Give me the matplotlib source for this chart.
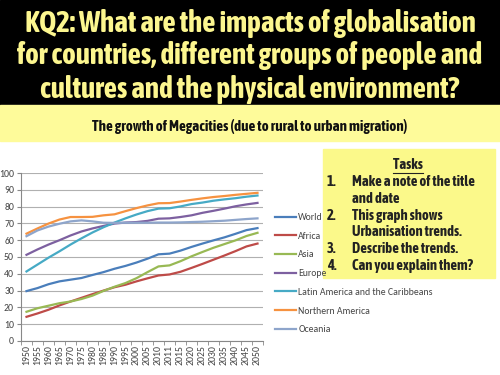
import matplotlib.pyplot as plt
from matplotlib.patches import Rectangle

years = ["1950", "1955", "1960", "1965", "1970", "1975", "1980", "1985", "1990", "1995",
	"2000", "2005", "2010", "2011", "2015", "2020", "2025", "2030", "2035", "2040", "2045", "2050"]

world = [29.7, 31.5, 33.8, 35.5, 36.5, 37.5, 39.3, 41.0, 43.0, 44.7, 46.7, 49.0, 51.6, 52.0,
	53.8, 56.0, 58.0, 59.9, 61.7, 63.8, 66.0, 67.2]
africa = [14.4, 16.4, 18.6, 21.2, 23.5, 25.7, 27.9, 30.0, 32.0, 33.5, 35.5, 37.3, 39.0, 39.6,
	41.2, 43.5, 45.9, 48.4, 50.9, 53.5, 56.3, 58.0]
asia = [17.4, 19.5, 21.0, 22.5, 23.5, 25.0, 27.0, 29.8, 32.3, 34.5, 37.4, 41.0, 44.4, 45.0,
	47.5, 50.4, 53.0, 55.5, 57.7, 59.9, 62.5, 64.4]
europe = [51.3, 54.5, 57.4, 60.0, 62.8, 65.2, 67.0, 68.5, 69.9, 70.5, 70.8, 71.5, 72.8, 73.0,
	73.8, 74.8, 76.3, 77.5, 78.8, 80.2, 81.3, 82.2]
latin = [41.4, 45.5, 49.6, 53.4, 57.4, 61.1, 64.6, 67.7, 70.5, 73.0, 75.3, 77.3, 78.8, 79.0,
	80.1, 81.5, 82.4, 83.5, 84.3, 85.0, 85.9, 86.6]
north = [63.9, 67.0, 69.9, 72.3, 73.8, 73.8, 73.9, 74.8, 75.4, 77.3, 79.1, 80.7, 82.0, 82.1,
	83.0, 84.0, 84.9, 85.7, 86.3, 87.0, 87.6, 88.2]
oceania = [62.4, 65.8, 68.1, 69.8, 71.2, 71.8, 71.2, 70.4, 70.3, 70.4, 70.4, 70.4, 70.5, 70.5,
	70.6, 70.8, 71.0, 71.3, 71.6, 72.1, 72.6, 73.0]

series = [
	("World", world, "#4a7ebb"),
	("Africa", africa, "#be4b48"),
	("Asia", asia, "#98b954"),
	("Europe", europe, "#7d60a0"),
	("Latin America and the Caribbeans", latin, "#46aac5"),
	("Northern America", north, "#f69240"),
	("Oceania", oceania, "#8ea5cb"),
]

title_lines = [
	"KQ2: What are the impacts of globalisation",
	"for countries, different groups of people and",
	"cultures and the physical environment?",
]
subtitle = "The growth of Megacities (due to rural to urban migration)"
tasks = [
	("1.", "Make a note of the title"),
	("", "and date"),
	("2.", "This graph shows"),
	("", "Urbanisation trends."),
	("3.", "Describe the trends."),
	("4.", "Can you explain them?"),
]

narrow = ["Asap Condensed", "DejaVu Sans"]
small = ["Carlito", "DejaVu Sans"]
W, H = 500, 375

fig = plt.figure(figsize=(5, 3.75), dpi=100)
bg = fig.add_axes([0, 0, 1, 1])
bg.set_xlim(0, W)
bg.set_ylim(H, 0)
bg.axis("off")

# header bands
bg.add_patch(Rectangle((0, 0), W, 105, color="black"))
bg.add_patch(Rectangle((0, 105), W, 36, color="#fefb9a"))
for i, line in enumerate(title_lines):
	bg.text(250, 23 + i * 33, line, ha="center", va="center", fontsize=21,
		fontweight="bold", color="#fcf68f", family=narrow)
bg.text(250, 126, subtitle, ha="center", va="center", fontsize=10.8,
	fontweight="bold", color="#111111", family=narrow)

# tasks box
bg.add_patch(Rectangle((323, 149), 172, 129, color="#fbf98a"))
bg.text(408, 165, "Tasks", ha="center", va="center", fontsize=10.5,
	fontweight="bold", color="#222222", family=narrow)
bg.plot([393, 423], [173, 173], color="#222222", lw=0.8)
for i, (num, txt) in enumerate(tasks):
	y = 182 + i * 16.8
	if num:
		bg.text(327, y, num, ha="left", va="center", fontsize=10.5,
			fontweight="bold", color="#222222", family=narrow)
	bg.text(352, y, txt, ha="left", va="center", fontsize=10.5,
		fontweight="bold", color="#222222", family=narrow)

# chart
ax = fig.add_axes([21 / W, 1 - 341 / H, 242 / W, 168 / H])
x = list(range(len(years)))
for name, vals, col in series:
	ax.plot(x, vals, color=col, lw=1.6, label=name)
ax.set_ylim(0, 100)
ax.set_xlim(-0.5, len(years) - 0.5)
ax.set_yticks(range(0, 101, 10))
ax.set_xticks(x)
ax.set_xticklabels(years, rotation=90, family=small)
for lab in ax.get_yticklabels():
	lab.set_family(small)
ax.set_xticks([i - 0.5 for i in range(len(years) + 1)], minor=True)
ax.tick_params(axis="x", which="major", length=0, labelsize=7, labelcolor="#444444", pad=3)
ax.tick_params(axis="x", which="minor", length=3, color="#888888")
ax.tick_params(axis="y", length=3, color="#888888", labelsize=7, labelcolor="#444444", pad=2)
ax.grid(axis="y", color="#b0b0b0", lw=0.8)
ax.set_axisbelow(True)
for s in ["top", "right"]:
	ax.spines[s].set_visible(False)
ax.spines["left"].set_color("#888888")
ax.spines["bottom"].set_color("#888888")

fig.legend(loc="upper left", bbox_to_anchor=(275 / W, 1 - 213 / H), frameon=False,
	prop={"family": small, "size": 7}, labelcolor="#444444", handlelength=2.2,
	handletextpad=0.2, labelspacing=1.0, borderpad=0, borderaxespad=0)

fig.savefig("out.png", dpi=100)
